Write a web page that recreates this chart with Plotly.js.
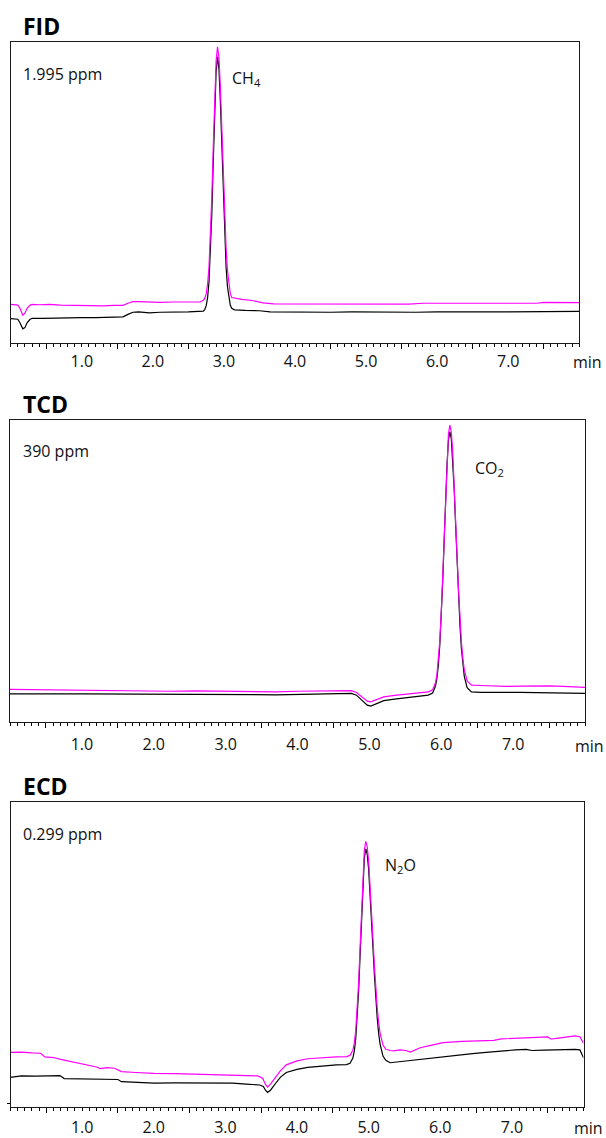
<!DOCTYPE html>
<html>
<head>
<meta charset="utf-8">
<script src="https://cdn.plot.ly/plotly-3.0.1.min.js"></script>
<style>
  html, body { margin: 0; padding: 0; background: #fff; }
  #chart { width: 606px; height: 1138px; }
</style>
</head>
<body>
<div id="chart"></div>
<script>
// ---------------- DATA (signal in % of panel full scale, time in min) ----------------
// FID – magenta run
const fidTimeA = [0.00,0.05,0.10,0.13,0.17,0.20,0.23,0.27,0.30,0.40,0.55,0.70,0.85,1.00,1.15,1.30,1.45,1.58,1.65,1.72,1.80,1.95,2.10,2.30,2.50,2.66,2.71,2.73,2.75,2.77,2.79,2.81,2.83,2.85,2.87,2.89,2.91,2.93,2.95,2.97,2.99,3.01,3.03,3.05,3.07,3.09,3.11,3.15,3.25,3.40,3.55,3.70,3.90,4.20,4.50,4.80,5.10,5.40,5.60,5.80,6.00,6.20,6.50,6.80,7.00,7.20,7.40,7.50,7.70,8.00];
const fidSignalA = [12.9,12.9,12.7,11.6,9.3,10.0,11.6,12.6,12.9,12.8,12.9,12.7,12.6,12.6,12.5,12.4,12.6,12.6,13.3,13.8,13.8,13.6,13.6,13.7,13.8,13.7,14.3,14.9,16.4,19.6,25.4,35.0,48.7,65.2,81.6,93.8,98.4,94.9,85.0,71.2,56.2,42.6,31.8,24.1,19.3,16.5,15.2,15.0,14.6,14.2,13.4,13.1,13.1,13.0,13.0,13.0,13.1,13.1,13.0,13.3,13.3,13.4,13.3,13.4,13.3,13.4,13.3,13.6,13.5,13.5];
// FID – black run
const fidTimeB = [0.00,0.05,0.10,0.13,0.17,0.20,0.23,0.27,0.30,0.45,0.60,0.80,1.00,1.20,1.40,1.58,1.65,1.72,1.80,1.95,2.10,2.30,2.50,2.71,2.73,2.75,2.77,2.79,2.81,2.83,2.85,2.87,2.89,2.91,2.93,2.95,2.97,2.99,3.01,3.03,3.05,3.07,3.09,3.11,3.15,3.30,3.50,3.65,3.90,4.20,4.50,4.80,5.10,5.40,5.70,6.00,6.30,6.60,7.00,7.40,7.70,8.00];
const fidSignalB = [8.2,8.2,8.0,6.8,4.8,5.2,6.8,7.9,8.3,8.3,8.4,8.3,8.5,8.5,8.6,8.8,9.6,10.3,10.4,10.1,10.3,10.3,10.4,10.7,11.2,12.4,15.1,20.5,29.6,43.2,60.1,77.2,90.2,95.1,91.1,80.1,65.2,49.5,35.8,25.5,18.7,14.7,12.6,11.6,11.1,10.9,10.8,10.4,10.3,10.4,10.3,10.4,10.3,10.4,10.3,10.4,10.3,10.4,10.4,10.5,10.6,10.6];

// TCD – both runs share the time points
const tcdTime = [0.0,0.3,0.6,1.0,1.4,1.8,2.2,2.6,3.0,3.4,3.7,4.0,4.3,4.6,4.75,4.82,4.90,4.97,5.02,5.10,5.20,5.35,5.50,5.65,5.79,5.82,5.88,5.92,5.94,5.96,5.98,6.00,6.02,6.04,6.06,6.08,6.10,6.12,6.14,6.16,6.18,6.20,6.22,6.24,6.26,6.28,6.30,6.32,6.36,6.42,6.55,6.7,6.9,7.1,7.3,7.5,7.7,7.9,8.0];
// TCD – magenta run
const tcdSignalA = [10.8,10.7,10.7,10.5,10.4,10.3,10.2,10.3,10.2,10.1,10.0,10.2,10.3,10.4,10.4,9.8,8.2,6.9,6.7,7.5,8.3,8.8,9.2,9.6,9.9,10.0,10.7,13.0,15.7,20.2,26.9,36.3,48.0,61.5,75.2,87.3,95.5,98.4,96.1,89.3,79.3,67.5,55.2,43.9,34.3,26.7,21.2,17.4,13.6,12.2,12.1,11.9,11.8,11.9,12.0,12.0,11.8,11.6,11.5];
// TCD – black run
const tcdSignalB = [9.3,9.2,9.3,9.3,9.3,9.2,9.3,9.2,9.2,9.1,9.0,9.1,9.3,9.4,9.5,8.9,7.1,5.6,5.3,6.2,7.1,7.6,8.0,8.4,8.8,8.9,9.6,11.9,14.6,18.9,25.6,34.8,46.4,59.8,73.3,85.2,93.3,96.2,93.9,87.1,77.1,65.3,53.0,41.7,32.1,24.5,19.0,15.2,11.4,10.0,9.8,9.7,9.8,9.8,9.7,9.8,9.7,9.6,9.5];

// ECD – magenta run
const ecdTimeA = [0.00,0.15,0.30,0.42,0.48,0.60,0.70,0.80,0.90,1.05,1.20,1.25,1.35,1.45,1.50,1.55,1.75,2.00,2.30,2.55,2.80,3.05,3.30,3.45,3.52,3.56,3.59,3.63,3.70,3.77,3.85,4.00,4.15,4.35,4.55,4.69,4.74,4.78,4.80,4.82,4.84,4.86,4.88,4.90,4.92,4.94,4.96,4.98,5.00,5.02,5.04,5.06,5.08,5.10,5.12,5.14,5.16,5.20,5.24,5.30,5.35,5.44,5.52,5.58,5.64,5.72,5.85,6.04,6.30,6.55,6.75,6.85,7.10,7.35,7.50,7.54,7.60,7.75,7.88,7.95,8.00];
const ecdSignalA = [18.0,18.1,17.8,17.7,16.5,16.3,15.7,15.2,14.6,14.0,13.2,12.7,13.0,12.8,12.2,11.7,11.4,11.1,11.0,10.9,10.8,10.6,10.4,10.3,9.5,7.5,6.6,7.6,9.8,12.0,13.9,15.2,15.9,16.3,16.5,16.6,17.0,18.7,21.0,25.1,31.5,40.5,51.9,64.4,75.9,84.1,87.1,85.4,80.7,73.4,64.7,55.5,46.7,39.0,32.6,27.8,24.3,20.4,19.0,18.6,18.5,18.8,18.6,18.1,18.6,19.5,20.2,21.2,21.6,21.8,21.9,22.4,22.6,22.9,23.1,22.4,22.5,23.0,23.4,23.1,21.0];
// ECD – black run
const ecdTimeB = [0.00,0.08,0.15,0.35,0.55,0.69,0.75,1.00,1.25,1.50,1.55,1.75,2.00,2.30,2.60,2.90,3.10,3.29,3.48,3.53,3.56,3.59,3.63,3.70,3.77,3.85,4.00,4.15,4.35,4.55,4.69,4.74,4.78,4.80,4.82,4.84,4.86,4.88,4.90,4.92,4.94,4.96,4.98,5.00,5.02,5.04,5.06,5.08,5.10,5.12,5.14,5.16,5.20,5.24,5.30,5.45,5.65,5.85,6.04,6.25,6.45,6.64,6.85,7.05,7.20,7.28,7.45,7.65,7.88,7.95,8.00];
const ecdSignalB = [9.8,10.2,10.3,10.2,10.4,10.4,9.4,9.3,9.2,9.1,8.4,8.1,7.9,8.0,7.9,8.0,7.9,7.6,7.3,6.8,5.6,4.9,5.6,7.8,9.9,11.4,12.4,13.1,13.6,13.9,14.0,14.4,16.1,18.4,22.5,28.9,37.9,49.3,61.9,73.4,81.6,84.6,82.9,78.0,70.7,61.8,52.5,43.5,35.6,29.2,24.2,20.7,16.8,15.4,14.6,15.0,15.6,16.1,16.6,17.1,17.6,18.0,18.5,18.8,19.0,18.6,18.7,18.9,19.0,18.8,16.2];

// Labels
const panelTitles = ["FID", "TCD", "ECD"];
const concLabels = ["1.995 ppm", "390 ppm", "0.299 ppm"];
const peakLabels = ["CH<sub>4</sub>", "CO<sub>2</sub>", "N<sub>2</sub>O"];
const tickValues = [1, 2, 3, 4, 5, 6, 7];
const tickLabels = ["1.0", "2.0", "3.0", "4.0", "5.0", "6.0", "7.0"];
const halfTicks = [0.5, 1.5, 2.5, 3.5, 4.5, 5.5, 6.5, 7.5];
const timeUnit = "min";

// ---------------- LAYOUT ----------------
const W = 606, H = 1138;
const FONT = "'Open Sans', 'Noto Sans', sans-serif";
const MAGENTA = "#ff00ff";
const BLACK = "#000000";

// panel geometry in pixels: [left, right, top, bottom]
const panels = [
  [10.7, 579.3, 42, 343.3],
  [10.0, 585.0, 420.3, 722.0],
  [10.5, 583.5, 802.0, 1107.3]
];
function xd(p) { return [p[0] / W, p[1] / W]; }
function yd(p) { return [1 - p[3] / H, 1 - p[2] / H]; }

const series = [
  [fidTimeA, fidSignalA, fidTimeB, fidSignalB],
  [tcdTime, tcdSignalA, tcdTime, tcdSignalB],
  [ecdTimeA, ecdSignalA, ecdTimeB, ecdSignalB]
];

const traces = [];
const layout = {
  width: W, height: H, autosize: false,
  margin: { l: 0, r: 0, t: 0, b: 0, pad: 0 },
  paper_bgcolor: "#fff", plot_bgcolor: "#fff",
  showlegend: false,
  font: { family: FONT, size: 16, color: "#111" },
  annotations: []
};

const titleY = [25.5, 403.8, 785.5];
const concY = [74, 451, 834];
const peakPos = [[230, 78], [472.7, 468.7], [382.7, 865]];
const minShift = [8, 4, 5];
const labelStandoff = [0, 5, 2];
const minYShift = [-6, -11, -8];

for (let i = 0; i < 3; i++) {
  const p = panels[i];
  const xa = i === 0 ? "x" : "x" + (i + 1);
  const ya = i === 0 ? "y" : "y" + (i + 1);
  const xo = "x" + (i + 4); // overlay axis carrying the half-minute ticks
  const xKey = i === 0 ? "xaxis" : "xaxis" + (i + 1);
  const yKey = i === 0 ? "yaxis" : "yaxis" + (i + 1);
  const s = series[i];

  traces.push({ x: s[0], y: s[1], xaxis: xo, yaxis: ya, type: "scatter", mode: "lines",
    line: { color: MAGENTA, width: 1.2 }, hoverinfo: "skip" });
  traces.push({ x: s[2], y: s[3], xaxis: xa, yaxis: ya, type: "scatter", mode: "lines",
    line: { color: BLACK, width: 1.2 }, hoverinfo: "skip" });

  layout[xKey] = {
    domain: xd(p), anchor: ya, range: [0, 8], fixedrange: true,
    showline: true, mirror: true, linecolor: "#1a1a1a", linewidth: 1,
    showgrid: false, zeroline: false,
    tickmode: "array", tickvals: tickValues, ticktext: tickLabels,
    ticks: "outside", ticklen: 3, tickwidth: 1, tickcolor: "#000",
    tickfont: { family: FONT, size: 16, color: "#111" },
    ticklabelstandoff: labelStandoff[i],
    minor: { ticks: "outside", ticklen: 3, tickwidth: 1, tickcolor: "#000", dtick: 0.1, tick0: 0, showgrid: false }
  };
  layout["xaxis" + (i + 4)] = {
    overlaying: xa, anchor: ya, range: [0, 8], fixedrange: true,
    showline: false, showgrid: false, zeroline: false,
    tickmode: "array", tickvals: halfTicks, showticklabels: false,
    ticks: "outside", ticklen: 5, tickwidth: 1, tickcolor: "#000"
  };
  layout[yKey] = {
    domain: yd(p), anchor: xa, range: [0, 100], fixedrange: true,
    showline: true, mirror: true, linecolor: "#1a1a1a", linewidth: 1,
    showgrid: false, zeroline: false, showticklabels: false,
    tickmode: "array", tickvals: i === 2 ? [1.1] : [],
    ticks: i === 2 ? "outside" : "", ticklen: 3, tickcolor: "#000"
  };

  layout.annotations.push({
    xref: "paper", yref: "paper", x: 21 / W, y: 1 - titleY[i] / H,
    xanchor: "left", yanchor: "middle", showarrow: false,
    text: "<b>" + panelTitles[i] + "</b>",
    font: { family: FONT, size: 23, color: "#000" }
  });
  layout.annotations.push({
    xref: "paper", yref: "paper", x: 21 / W, y: 1 - concY[i] / H,
    xanchor: "left", yanchor: "middle", showarrow: false,
    text: concLabels[i], font: { family: FONT, size: 16, color: "#111" }
  });
  layout.annotations.push({
    xref: "paper", yref: "paper", x: peakPos[i][0] / W, y: 1 - peakPos[i][1] / H,
    xanchor: "left", yanchor: "middle", showarrow: false,
    text: peakLabels[i], font: { family: FONT, size: 16, color: "#111" }
  });
  layout.annotations.push({
    xref: xa + " domain", yref: ya + " domain", x: 1, y: 0,
    xanchor: "center", yanchor: "top", xshift: minShift[i], yshift: minYShift[i], showarrow: false,
    text: timeUnit, font: { family: FONT, size: 16, color: "#111" }
  });
}

Plotly.newPlot("chart", traces, layout, { staticPlot: true, displayModeBar: false });
</script>
</body>
</html>
